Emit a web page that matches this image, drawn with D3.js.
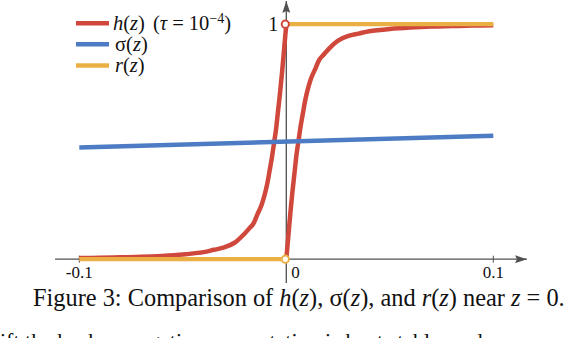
<!DOCTYPE html>
<html>
<head>
<meta charset="utf-8">
<script src="https://cdn.jsdelivr.net/npm/d3@7"></script>
<style>
  body { margin: 0; background: #fff; }
  svg { display: block; }
</style>
</head>
<body>
<script>

// Data

// h(z) for z > 0 (starts at 0, climbs to 1)
var hRightZ = [0, 0.001, 0.002, 0.003, 0.004, 0.005, 0.006, 0.007, 0.008, 0.009, 0.010,
               0.012, 0.014, 0.016, 0.018, 0.020, 0.025, 0.030, 0.035, 0.040, 0.050,
               0.060, 0.070, 0.080, 0.090, 0.100];
var hRightY = [0, 0.10, 0.20, 0.29, 0.37, 0.45, 0.51, 0.57, 0.62, 0.67, 0.71,
               0.77, 0.81, 0.85, 0.87, 0.89, 0.93, 0.95, 0.96, 0.97, 0.98,
               0.986, 0.99, 0.992, 0.994, 0.995];

// h(z) for z < 0 (creeps up from 0, jumps to 1 at z = 0)
var hLeftZ = [-0.100, -0.090, -0.080, -0.070, -0.060, -0.050, -0.040, -0.035, -0.030, -0.025,
              -0.020, -0.018, -0.016, -0.014, -0.012, -0.010, -0.009, -0.008, -0.007, -0.006,
              -0.005, -0.004, -0.003, -0.002, -0.001, 0];
var hLeftY = [0.005, 0.006, 0.008, 0.01, 0.014, 0.02, 0.03, 0.04, 0.05, 0.07,
              0.11, 0.13, 0.15, 0.19, 0.23, 0.29, 0.33, 0.38, 0.43, 0.49,
              0.55, 0.63, 0.71, 0.80, 0.90, 1];

// sigma(z), almost flat near 0
var sigmaZ = [-0.1, 0.1];
var sigmaY = [0.475, 0.525];

// r(z), a step at 0
var rLowZ = [-0.1, 0];
var rLowY = [0, 0];
var rHighZ = [0, 0.1];
var rHighY = [1, 1];

// open circles at the jumps [z, value, colour]
var holes = [[0, 1, '#d0473c'], [0, 0, '#ebb044']];

var xTicks = [-0.1, 0.1];
var xTickLabels = ['-0.1', '0.1'];

var legendNames = ['h', 'σ', 'r'];
var legendColors = ['#d0473c', '#4d7cc4', '#ebb044'];


// ===========================================================================
// Drawing

var width = 568, height = 338;
var axisColor = '#505050';
var serif = "'Liberation Serif', 'DejaVu Serif', serif";

var svg = d3.select('body').append('svg')
    .attr('width', width)
    .attr('height', height)
    .attr('font-family', serif)
    .style('font-family', serif);

var x = d3.scaleLinear().domain([-0.1, 0.1]).range([79.3, 493.3]);
var y = d3.scaleLinear().domain([0, 1]).range([259.2, 24.2]);

// arrow heads
var defs = svg.append('defs');
defs.append('marker')
    .attr('id', 'arrow')
    .attr('viewBox', '0 0 12 8')
    .attr('refX', 12)
    .attr('refY', 4)
    .attr('markerWidth', 12)
    .attr('markerHeight', 8)
    .attr('markerUnits', 'userSpaceOnUse')
    .attr('orient', 'auto')
    .append('path')
    .attr('d', 'M0,0 L12,4 L0,8 L2,4 Z')
    .attr('fill', axisColor);

// axes
var axes = svg.append('g').attr('class', 'axes');

axes.append('line')
    .attr('x1', 55).attr('x2', 527)
    .attr('y1', y(0)).attr('y2', y(0))
    .attr('stroke', axisColor)
    .attr('stroke-width', 1.3)
    .attr('marker-end', 'url(#arrow)');

axes.append('line')
    .attr('x1', x(0)).attr('x2', x(0))
    .attr('y1', 283).attr('y2', 1)
    .attr('stroke', axisColor)
    .attr('stroke-width', 1.3)
    .attr('marker-end', 'url(#arrow)');

axes.selectAll('line.tick')
    .data(xTicks)
    .enter().append('line')
    .attr('class', 'tick')
    .attr('x1', function (d) { return x(d); })
    .attr('x2', function (d) { return x(d); })
    .attr('y1', y(0) - 3.5)
    .attr('y2', y(0) + 3.5)
    .attr('stroke', axisColor)
    .attr('stroke-width', 1);

axes.selectAll('text.tick')
    .data(xTicks)
    .enter().append('text')
    .attr('class', 'tick')
    .attr('x', function (d) { return x(d); })
    .attr('y', 277.5)
    .attr('text-anchor', 'middle')
    .attr('font-size', 17)
    .attr('fill', '#111')
    .text(function (d, i) { return xTickLabels[i]; });

axes.append('text')
    .attr('x', x(0) + 5)
    .attr('y', 277.5)
    .attr('font-size', 17)
    .attr('fill', '#111')
    .text('0');

axes.append('text')
    .attr('x', x(0) - 8)
    .attr('y', y(1) + 6.5)
    .attr('text-anchor', 'end')
    .attr('font-size', 20)
    .attr('fill', '#111')
    .text('1');

// curves
var line = d3.line()
    .x(function (d) { return x(d[0]); })
    .y(function (d) { return y(d[1]); });

function zipPoints(zs, vs) {
    return zs.map(function (z, i) { return [z, vs[i]]; });
}

function drawCurve(zs, vs, color, w, curve) {
    svg.append('path')
        .datum(zipPoints(zs, vs))
        .attr('fill', 'none')
        .attr('stroke', color)
        .attr('stroke-width', w)
        .attr('stroke-linejoin', 'round')
        .attr('d', line.curve(curve || d3.curveLinear));
}

var smooth = d3.curveCatmullRom.alpha(0.5);
drawCurve(hRightZ, hRightY, legendColors[0], 4.5, smooth);
drawCurve(hLeftZ, hLeftY, legendColors[0], 4.5, smooth);
drawCurve(sigmaZ, sigmaY, legendColors[1], 4.5);
drawCurve(rLowZ, rLowY, legendColors[2], 4.2);
drawCurve(rHighZ, rHighY, legendColors[2], 4.2);

svg.selectAll('circle.hole')
    .data(holes)
    .enter().append('circle')
    .attr('class', 'hole')
    .attr('cx', function (d) { return x(d[0]) - 1; })
    .attr('cy', function (d) { return y(d[1]); })
    .attr('r', 3.6)
    .attr('fill', '#fff')
    .attr('stroke', function (d) { return d[2]; })
    .attr('stroke-width', 2);

// legend
var legend = svg.append('g').attr('class', 'legend');
var legendY = [23.3, 44.3, 65.5];

legend.selectAll('line')
    .data(legendNames)
    .enter().append('line')
    .attr('x1', 76).attr('x2', 109)
    .attr('y1', function (d, i) { return legendY[i]; })
    .attr('y2', function (d, i) { return legendY[i]; })
    .attr('stroke', function (d, i) { return legendColors[i]; })
    .attr('stroke-width', 4.5);

var legendText = legend.selectAll('text')
    .data(legendNames)
    .enter().append('text')
    .attr('x', function (d, i) { return i === 0 ? 113 : 115; })
    .attr('y', function (d, i) { return legendY[i] + 6.5; })
    .attr('font-size', 20.5)
    .attr('fill', '#111');

legendText.append('tspan')
    .attr('font-style', function (d) { return d === 'σ' ? 'normal' : 'italic'; })
    .text(function (d) { return d; });
legendText.append('tspan').text('(');
legendText.append('tspan').attr('font-style', 'italic').text('z');
legendText.append('tspan').text(')');

var first = legendText.filter(function (d, i) { return i === 0; });
first.append('tspan').attr('dx', 8).text('(');
first.append('tspan').attr('font-style', 'italic').text('τ');
first.append('tspan').text(' = 10');
first.append('tspan').attr('dy', -7).attr('font-size', 14).text('−4');
first.append('tspan').attr('dy', 7).text(')');

// caption
var caption = svg.append('text')
    .attr('x', 33)
    .attr('y', 306)
    .attr('font-size', 22)
    .attr('fill', '#111');

var captionParts = [
    ['Figure 3: Comparison of ', 'normal'], ['h', 'italic'], ['(', 'normal'], ['z', 'italic'],
    ['), σ(', 'normal'], ['z', 'italic'], ['), and ', 'normal'], ['r', 'italic'],
    ['(', 'normal'], ['z', 'italic'], [') near ', 'normal'], ['z', 'italic'], [' = 0.', 'normal']
];
caption.selectAll('tspan')
    .data(captionParts)
    .enter().append('tspan')
    .attr('font-style', function (d) { return d[1]; })
    .text(function (d) { return d[0]; });

// fit caption to its width in the picture
var capW = caption.node().getComputedTextLength();
caption.attr('font-size', 22 * 532 / capW);

// next line of body text, cut off by the picture edge (as in the source page)
svg.append('text')
    .attr('x', 0)
    .attr('y', 348)
    .attr('font-size', 22)
    .attr('fill', '#111')
    .text('ift the backpropagation computation is kept stable, and we can model the');

</script>
</body>
</html>
